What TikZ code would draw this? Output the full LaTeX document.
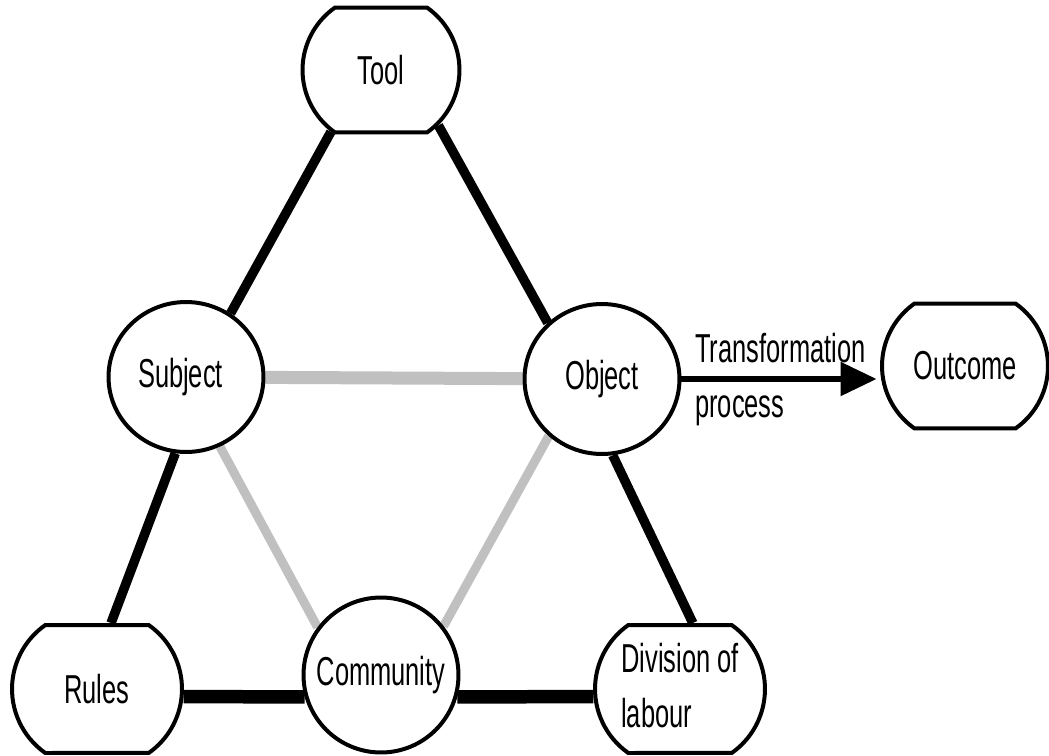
\documentclass[tikz,border=0pt]{standalone}
\usepackage{fontspec}
\setmainfont{Liberation Sans}
\usepackage{graphicx}
\usetikzlibrary{shapes.geometric,shapes.misc,arrows.meta,backgrounds}
\definecolor{linkgray}{HTML}{C0C0C0}
\newcommand{\narrow}[1]{\scalebox{0.63}[1]{#1}}
\newcommand{\ctext}[1]{\makebox[0pt]{\narrow{#1}}}

\begin{document}
\begin{tikzpicture}[x=0.02cm,y=-0.02cm,font=\fontsize{23}{31}\selectfont,
		base node/.style={draw,fill=white,line width=0.08cm,inner sep=0pt},
		circ node/.style={base node,ellipse,minimum width=3.1cm,minimum height=3cm},
		box node/.style={base node,rounded rectangle,rounded rectangle arc length=110,minimum width=3.4cm,minimum height=2.56cm},
		link/.style={line width=0.19cm},
		flat link/.style={line width=0.27cm},
		weak/.style={linkgray,line width=0.18cm},
		flat weak/.style={linkgray,line width=0.26cm},
		flow/.style={line width=0.11cm,-{Triangle[length=0.72cm,width=0.66cm]},shorten >=2pt}]
		\useasboundingbox (0,0) rectangle (1049,755);
		% activity triangle
		\node[box node,minimum width=3.14cm,minimum height=2.5cm] (tool) at (381,70) {\ctext{Tool}};
		\node[circ node] (subject) at (186,377) {\ctext{\hspace*{-0.35cm}Subject}};
		\node[circ node] (object) at (602,379) {\ctext{Object}};
		\node[box node,minimum width=3.32cm,minimum height=2.5cm] (outcome) at (965,366) {\ctext{Outcome}};
		\node[box node] (rules) at (97,689) {\ctext{Rules}};
		\node[circ node,minimum height=3.1cm] (community) at (381,675) {\ctext{Community}};
		\node[box node] (division) at (680,689) {\ctext{\raisebox{-0.12cm}{\begin{tabular}{@{}l@{}}Division of\\labour\end{tabular}}}};
		\begin{scope}[on background layer]
		\path
		(tool.-129) edge[link] (subject.55)
		(tool.-44) edge[link] (object.134)
		(subject.-98) edge[link] (rules.78)
		(object.-82) edge[link] (division.79)
		(rules.-5) edge[flat link] (community.196)
		(community.-16) edge[flat link] (division.185)
		(subject) edge[flat weak] (object)
		(subject.-64) edge[weak] (community.143)
		(object.-133) edge[weak] (community.38)
		(object.east) edge[flow] node[anchor=west,pos=0,inner sep=0.22cm] {\narrow{\begin{tabular}{@{}l@{}}Transformation\\process\end{tabular}}} (object.east -| outcome.west);
		\end{scope}
\end{tikzpicture}
\end{document}
